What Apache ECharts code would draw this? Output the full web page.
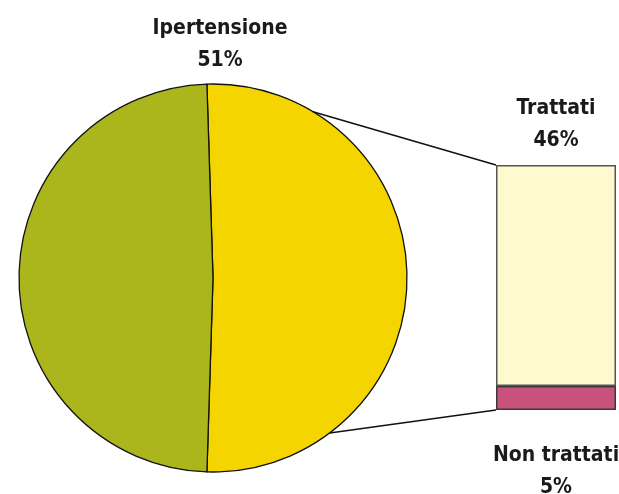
<!DOCTYPE html>
<html>
<head>
<meta charset="utf-8">
<script src="https://cdn.jsdelivr.net/npm/echarts@6/dist/echarts.min.js"></script>
<style>
html,body{margin:0;padding:0;background:#fff;}
#c{width:619px;height:494px;}
</style>
</head>
<body>
<div id="c"></div>
<script>
// Data
const pieNames = ['Ipertensione', 'Altro'];
const pieValues = [51, 49];
const barNames = ['Non trattati', 'Trattati'];
const barValues = [5, 46];
const pieLabel = 'Ipertensione\n51%';
const barLabelTop = 'Trattati\n46%';
const barLabelBottom = 'Non trattati\n5%';

const FONT = '"DejaVu Sans Condensed", "Liberation Sans Narrow", "DejaVu Sans", sans-serif';
const txtStyle = {fontFamily: FONT, fontWeight: 'bold', fontSize: 21, lineHeight: 32, fill: '#1a1a1a', align: 'center', verticalAlign: 'top'};

const chart = echarts.init(document.getElementById('c'), null, {renderer: 'canvas'});
const pieCenter = [213, 278];
const pieR = 194;
const startAngle = 90 + (pieValues[0] / (pieValues[0] + pieValues[1]) * 360 - 180) / 2;

const option = {
  animation: false,
  grid: {left: 496, top: 165, width: 120, height: 245},
  xAxis: {type: 'category', data: ['b'], show: false},
  yAxis: {type: 'value', min: 0, max: barValues[0] + barValues[1], show: false},
  series: [
    {
      type: 'pie',
      center: pieCenter,
      radius: pieR,
      startAngle: startAngle,
      clockwise: true,
      label: {show: false},
      labelLine: {show: false},
      itemStyle: {borderColor: '#111', borderWidth: 1.3},
      data: [
        {name: pieNames[0], value: pieValues[0], itemStyle: {color: '#F5D500'}},
        {name: pieNames[1], value: pieValues[1], itemStyle: {color: '#ABB51C'}}
      ]
    },
    {
      type: 'bar', stack: 's', barWidth: '100%', name: barNames[0],
      data: [barValues[0]],
      itemStyle: {color: '#C8527B', borderColor: '#3a3a3a', borderWidth: 1.5}
    },
    {
      type: 'bar', stack: 's', barWidth: '100%', name: barNames[1],
      data: [barValues[1]],
      itemStyle: {color: '#FFF9D0', borderColor: '#555', borderWidth: 1.5}
    }
  ]
};
chart.setOption(option);

function drawExtras() {
  const lb = chart.getModel().getSeriesByIndex(1).getData().getItemLayout(0);
  const lt = chart.getModel().getSeriesByIndex(2).getData().getItemLayout(0);
  const barLeft = Math.min(lb.x, lb.x + lb.width);
  const barBottom = Math.max(lb.y, lb.y + lb.height);
  const barTop = Math.min(lt.y, lt.y + lt.height);
  const a1 = 59 * Math.PI / 180, a2 = -53 * Math.PI / 180;
  const p1 = [pieCenter[0] + pieR * Math.cos(a1), pieCenter[1] - pieR * Math.sin(a1)];
  const p2 = [pieCenter[0] + pieR * Math.cos(a2), pieCenter[1] - pieR * Math.sin(a2)];
  chart.setOption({
    graphic: [
      {type: 'line', shape: {x1: p1[0], y1: p1[1], x2: barLeft, y2: barTop}, style: {stroke: '#111', lineWidth: 1.4}, z: 10},
      {type: 'line', shape: {x1: p2[0], y1: p2[1], x2: barLeft, y2: barBottom}, style: {stroke: '#111', lineWidth: 1.4}, z: 10},
      {type: 'text', x: 220, y: 13, style: Object.assign({}, txtStyle, {text: pieLabel})},
      {type: 'text', x: 556, y: 93, style: Object.assign({}, txtStyle, {text: barLabelTop})},
      {type: 'text', x: 556, y: 440, style: Object.assign({}, txtStyle, {text: barLabelBottom})}
    ]
  });
}
drawExtras();
</script>
</body>
</html>
